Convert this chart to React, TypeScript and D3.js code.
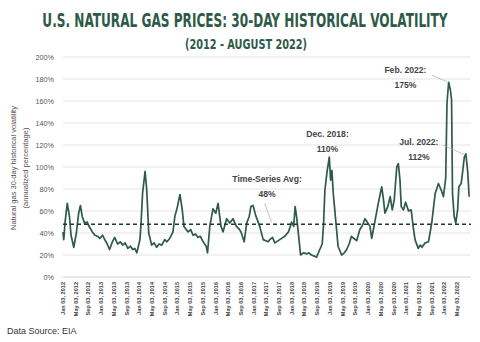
import React, { useLayoutEffect, useRef, useState } from "react";
import * as d3 from "d3";

const dates: string[] = [
  "2012-01-03","2012-01-10","2012-01-25","2012-02-13","2012-03-05","2012-03-20","2012-04-15","2012-05-10","2012-06-01","2012-06-18","2012-07-05","2012-07-27","2012-08-20","2012-09-15","2012-10-10","2012-11-03","2012-12-01","2012-12-21",
  "2013-01-15","2013-02-06","2013-03-01","2013-03-24","2013-04-20","2013-05-12","2013-06-09","2013-07-05","2013-07-27","2013-08-20","2013-09-15","2013-10-10","2013-11-01","2013-11-20","2013-12-10",
  "2014-01-09","2014-01-20","2014-02-03","2014-02-27","2014-03-15","2014-04-03","2014-05-01","2014-05-25","2014-06-18","2014-07-10","2014-08-06","2014-09-03","2014-09-24","2014-10-21","2014-11-21","2014-12-09",
  "2015-01-03","2015-01-27","2015-02-18","2015-03-06","2015-04-15","2015-05-10","2015-06-01","2015-06-25","2015-07-18","2015-08-10","2015-09-06","2015-10-05","2015-10-18","2015-11-09","2015-12-09",
  "2016-01-05","2016-01-27","2016-02-24","2016-03-15","2016-04-18","2016-05-18","2016-06-18","2016-07-21","2016-08-12","2016-09-03","2016-10-03","2016-10-27","2016-11-20","2016-12-06","2016-12-27",
  "2017-01-21","2017-03-01","2017-04-03","2017-05-21","2017-06-06","2017-07-01","2017-07-24","2017-09-09","2017-10-27","2017-12-01",
  "2018-01-01","2018-01-20","2018-02-03","2018-02-18","2018-03-12","2018-03-27","2018-04-25","2018-05-24","2018-06-15","2018-07-09","2018-08-05","2018-08-27","2018-09-27","2018-10-20","2018-11-01","2018-11-15","2018-12-06","2018-12-27",
  "2019-01-09","2019-01-21","2019-02-03","2019-03-01","2019-03-21","2019-04-24","2019-05-20","2019-06-12","2019-07-05","2019-07-27","2019-08-20","2019-09-15","2019-10-15","2019-11-10","2019-12-03","2019-12-25",
  "2020-01-21","2020-02-06","2020-03-09","2020-04-09","2020-05-12","2020-05-27","2020-06-12","2020-07-09","2020-08-01","2020-08-21","2020-09-09","2020-10-03","2020-10-18","2020-11-03","2020-11-15","2020-12-06","2020-12-27",
  "2021-01-24","2021-02-18","2021-03-09","2021-03-27","2021-04-27","2021-05-15","2021-06-01","2021-07-01","2021-08-03","2021-09-03","2021-10-06","2021-11-06","2021-12-03","2021-12-24",
  "2022-01-15","2022-01-27","2022-02-12","2022-03-01","2022-03-12","2022-03-21","2022-04-06","2022-04-21","2022-05-09","2022-05-21","2022-06-12","2022-06-24","2022-07-12","2022-07-27","2022-08-09","2022-08-15","2022-08-27"
];

const volatility: number[] = [
  41,34,52,67,55,38,27,40,58,65,55,49,50,45,41,38,37,35,
  38,34,30,25,32,36,30,32,29,31,26,28,25,26,22,
  34,50,76,96,79,40,29,31,27,30,29,34,32,35,41,55,
  64,75,61,46,41,43,38,39,36,37,32,28,22,46,62,
  58,67,46,41,53,49,53,46,44,41,32,49,55,64,65,
  56,46,34,32,34,36,31,34,37,41,
  50,46,64,54,34,20,22,21,22,20,19,18,25,30,46,79,96,109,
  88,97,76,49,28,20,22,25,30,37,35,33,43,47,53,50,
  46,35,51,67,82,72,58,64,73,61,70,100,103,88,64,61,68,
  60,61,46,34,26,29,27,31,32,49,76,85,79,73,
  90,158,177,170,161,76,55,49,61,82,85,94,109,112,100,94,73
];

const yTicks: number[] = [0, 20, 40, 60, 80, 100, 120, 140, 160, 180, 200];
const average = 48;
const tickStart = "2012-01-03";
const tickEnd = "2022-05-03";

const annotations = [
  { lines: ["Time-Series Avg:", "48%"], date: "2017-05-10", value: 86, leaderFrom: ["2017-04-18", 67], leaderTo: ["2017-06-21", 50] },
  { lines: ["Dec. 2018:", "110%"], date: "2018-12-10", value: 127, leaderFrom: null, leaderTo: null },
  { lines: ["Feb. 2022:", "175%"], date: "2020-12-25", value: 185.5, leaderFrom: ["2021-09-03", 183.6], leaderTo: ["2022-01-27", 177.5] },
  { lines: ["Jul. 2022:", "112%"], date: "2021-05-03", value: 120, leaderFrom: ["2021-12-21", 120], leaderTo: ["2022-07-18", 111] },
];

const W = 480;
const H = 342;
const green = "#2e5a48";

function FitText({ x, y, width, size, children }: { x: number; y: number; width: number; size: number; children: string }) {
  const ref = useRef<SVGTextElement>(null);
  const [sx, setSx] = useState(0.7);
  useLayoutEffect(() => {
    if (ref.current) {
      const w = ref.current.getComputedTextLength();
      if (w > 0) setSx(width / w);
    }
  }, [width, children]);
  return (
    <g transform={`translate(${x},${y}) scale(${sx},1)`}>
      <text ref={ref} textAnchor="middle" fontFamily="'DejaVu Sans Condensed', 'DejaVu Sans', sans-serif" fontWeight="bold" fontSize={size} fill={green}>
        {children}
      </text>
    </g>
  );
}

export default function App() {
  const parse = d3.timeParse("%Y-%m-%d");
  const x = d3.scaleTime().domain([parse(tickStart)!, parse(tickEnd)!]).range([63, 457]);
  const y = d3.scaleLinear().domain([0, 200]).range([277, 57]);
  const data = dates.map((d, i) => ({ date: parse(d)!, v: volatility[i] }));
  const line = d3.line<{ date: Date; v: number }>().x((d) => x(d.date)).y((d) => y(d.v));
  const xTicks = d3.timeMonth.every(4)!.range(d3.timeDay.offset(parse(tickStart)!, -2), d3.timeDay.offset(parse(tickEnd)!, 1)).map((d) => d3.timeDay.offset(d, 2));
  const fmt = d3.timeFormat("%b %d, %Y");
  const x0 = 63;
  const x1 = 471;

  return (
    <div style={{ position: "absolute", left: 0, top: 0 }}>
      <svg width={W} height={H} style={{ display: "block", background: "#fff" }} fontFamily="'Liberation Sans', Arial, sans-serif">
        <FitText x={245} y={27} width={405} size={19}>U.S. NATURAL GAS PRICES: 30-DAY HISTORICAL VOLATILITY</FitText>
        <FitText x={246} y={49} width={122} size={14.5}>(2012 - AUGUST 2022)</FitText>
        {yTicks.map((t) => (
          <g key={t}>
            <line x1={x0} x2={x1} y1={y(t)} y2={y(t)} stroke={t === 0 ? "#d0d0d0" : "#e4e4e4"} strokeWidth={1} />
            <text x={54} y={y(t) + 2.5} textAnchor="end" fontSize={7.2} fill="#555">{t}%</text>
          </g>
        ))}
        {xTicks.map((d, i) => (
          <text key={i} transform={`translate(${x(d) + 2},282) rotate(-90)`} textAnchor="end" fontSize={5.6} fontWeight="bold" fill="#444">
            {fmt(d)}
          </text>
        ))}
        <g transform="translate(16,168) rotate(-90)">
          <text textAnchor="middle" fontSize={7.5} fill="#555">Natural gas 30-day historical volatility</text>
          <text y={12} textAnchor="middle" fontSize={7.5} fill="#555">(annualized percentage)</text>
        </g>
        <path d={line(data) || ""} fill="none" stroke={green} strokeWidth={1.7} strokeLinejoin="round" />
        <line x1={x0} x2={x1} y1={y(average)} y2={y(average)} stroke="#1c3a30" strokeWidth={1.6} strokeDasharray="4,3" />
        {annotations.map((a, i) => (
          <g key={i}>
            {a.leaderFrom && a.leaderTo && (
              <line x1={x(parse(a.leaderFrom[0] as string)!)} y1={y(a.leaderFrom[1] as number)} x2={x(parse(a.leaderTo[0] as string)!)} y2={y(a.leaderTo[1] as number)} stroke="#aaa" strokeWidth={0.7} />
            )}
            {a.lines.map((l, j) => (
              <text key={j} x={x(parse(a.date)!)} y={y(a.value) + j * 15} textAnchor="middle" fontSize={8.6} fontWeight="bold" fill="#444">
                {l}
              </text>
            ))}
          </g>
        ))}
        <text x={7} y={334} fontSize={9} fill="#333">Data Source: EIA</text>
      </svg>
    </div>
  );
}
